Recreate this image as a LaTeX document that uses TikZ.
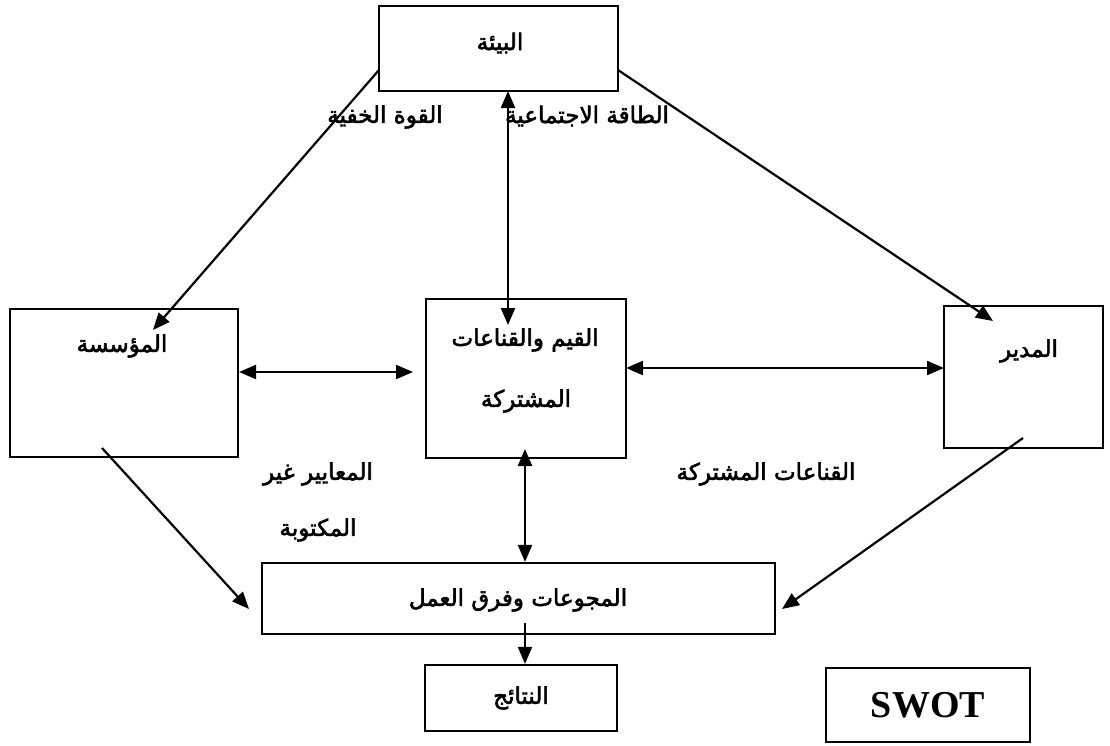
\documentclass[tikz,border=0pt]{standalone}
\usepackage{fontspec}
\setmainfont{Liberation Serif}
\newfontfamily\arabicfont[Script=Arabic,FakeBold=2.5]{DejaVu Sans}
\TeXXeTstate=1
\usetikzlibrary{arrows.meta}
\newcommand{\artxt}[1]{{\arabicfont\beginR #1\endR}}
\begin{document}
\begin{tikzpicture}[x=1pt,y=-1pt,
  box/.style={draw, line width=2.2pt, inner sep=0pt},
  lbl/.style={font=\fontsize{23}{26}\selectfont, inner sep=0pt},
  arr/.style={line width=2.2pt, -{Triangle[length=17pt,width=14pt]}},
  darr/.style={line width=2.2pt, {Triangle[length=17pt,width=14pt]}-{Triangle[length=17pt,width=14pt]}}]
\useasboundingbox (0,0) rectangle (1110,745);

% boxes
\node[box, minimum width=239pt, minimum height=85pt] (env) at (498.5,48.5) {};
\node[box, minimum width=228pt, minimum height=148pt] (org) at (124,383) {};
\node[box, minimum width=200pt, minimum height=159pt] (val) at (526,378.5) {};
\node[box, minimum width=159pt, minimum height=142pt] (mgr) at (1023.5,377) {};
\node[box, minimum width=513pt, minimum height=71pt] (grp) at (518.5,598.5) {};
\node[box, minimum width=192pt, minimum height=66pt] (res) at (521,698) {};
\node[box, minimum width=204pt, minimum height=74pt] (swot) at (928,705) {};

% box texts
\node[lbl] (envT) at (500,43) {\artxt{البيئة}};
\node[lbl] (orgT) at (122,346) {\artxt{المؤسسة}};
\node[lbl] (valT1) at (525,340) {\artxt{القيم والقناعات}};
\node[lbl] (valT2) at (526,401) {\artxt{المشتركة}};
\node[lbl] (mgrT) at (1029,351) {\artxt{المدير}};
\node[lbl] (grpT) at (518,600) {\artxt{المجوعات وفرق العمل}};
\node[lbl] (resT) at (521,698) {\artxt{النتائج}};
\node[font=\fontsize{38}{42}\selectfont\bfseries, inner sep=0pt] (swotT) at (928,705) {SWOT};

% connector labels
\node[lbl] (lbHidden) at (385,117) {\artxt{القوة الخفية}};
\node[lbl] (lbSocial) at (587,116) {\artxt{الطاقة الاجتماعية}};
\node[lbl] (lbNorms1) at (318,474) {\artxt{المعايير غير}};
\node[lbl] (lbNorms2) at (318,530) {\artxt{المكتوبة}};
\node[lbl] (lbShared) at (766,474) {\artxt{القناعات المشتركة}};

% connector end points
\coordinate (envL) at (379,70);
\coordinate (envR) at (618,70);
\coordinate (orgIn) at (153,330);
\coordinate (mgrIn) at (993,321);
\coordinate (valTop) at (508,325);
\coordinate (envBot) at (508,91);
\coordinate (valBot) at (525,449);
\coordinate (orgOut) at (102,448);
\coordinate (grpL) at (249,609);
\coordinate (mgrOut) at (1023,438);
\coordinate (grpR) at (782,609);
\coordinate (grpOut) at (525,623);
\coordinate (orgE) at (239,372);
\coordinate (valW) at (413,372);
\coordinate (valE) at (626,368);
\coordinate (mgrW) at (944,368);

% connectors
\draw[arr] (envL) -- (orgIn);
\draw[arr] (envR) -- (mgrIn);
\draw[darr] (envBot) -- (valTop);
\draw[darr] (orgE) -- (valW);
\draw[darr] (valE) -- (mgrW);
\draw[darr] (valBot) -- (grp.north -| valBot);
\draw[arr] (orgOut) -- (grpL);
\draw[arr] (mgrOut) -- (grpR);
\draw[arr] (grpOut) -- (res.north -| grpOut);
\end{tikzpicture}
\end{document}
